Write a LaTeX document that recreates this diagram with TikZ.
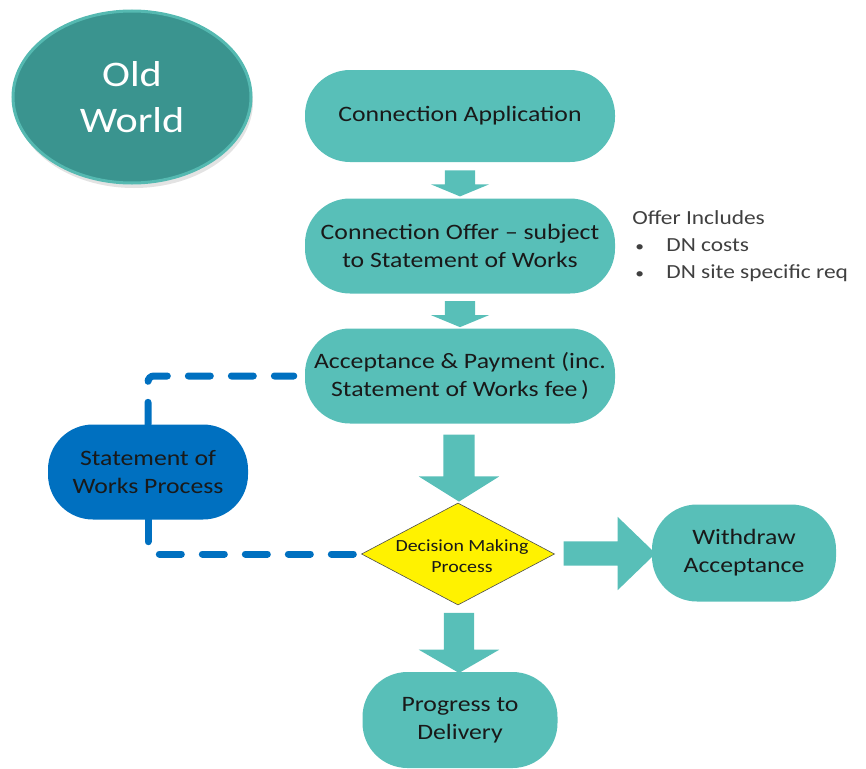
\documentclass[tikz,border=0pt]{standalone}
\usepackage{fontspec}
\setmainfont[FakeStretch=1.17]{Carlito}
\usetikzlibrary{positioning,shapes,shapes.geometric,shapes.arrows,shadows,calc}
\definecolor{boxteal}{HTML}{58BFB8}
\definecolor{oldteal}{HTML}{3A948F}
\definecolor{oldedge}{HTML}{55B9B1}
\definecolor{sowblue}{HTML}{0070C0}

\begin{document}
\begin{tikzpicture}[x=1pt, y=-1pt,
    stepbox/.style={fill=boxteal, rounded corners=45pt, align=center, font=\fontsize{22}{28}\selectfont, text=black!90},
    blockarrow/.style={single arrow, fill=boxteal, inner xsep=0pt, text height=0pt, text depth=0pt, single arrow head indent=0pt},
    dashlink/.style={draw=sowblue, line width=7pt, line cap=round, dash pattern=on 22pt off 21pt, rounded corners=6pt}]
    \useasboundingbox (0,0) rectangle (866,768);

    % Title
    \node[ellipse, fill=oldteal, draw=oldedge, line width=3pt, minimum width=238pt, minimum height=172pt,
          drop shadow={shadow xshift=2pt, shadow yshift=-5pt, fill=black!22}, align=center,
          font=\fontsize{36}{46}\selectfont, text=white] (old) at (132, 97) {Old\\World};

    % Main steps
    \node[stepbox, minimum width=310pt, minimum height=92pt] (app) at (460, 116) {Connection Application};
    \node[stepbox, minimum width=310pt, minimum height=95pt] (offer) at (460, 246) {Connection Offer -- subject\\to Statement of Works};
    \node[stepbox, minimum width=310pt, minimum height=95pt] (acc) at (460, 376) {Acceptance \& Payment (inc.\\Statement of Works fee\,)};

    % Decision
    \node[diamond, fill=yellow, draw=black!70, line width=0.6pt, minimum width=193pt, minimum height=102pt, inner sep=0pt] (dec) at (458, 554) {};
    \node[align=center, font=\fontsize{17}{21}\selectfont, text=black!90] (dectext) at (462, 556) {Decision Making\\Process};

    % Outcomes
    \node[stepbox, minimum width=184pt, minimum height=97pt] (wd) at (744, 553) {Withdraw\\Acceptance};
    \node[stepbox, minimum width=195pt, minimum height=96pt] (prog) at (460, 720) {Progress to\\Delivery};

    % Statement of Works
    \node[stepbox, fill=sowblue, minimum width=200pt, minimum height=95pt] (sow) at (148, 472) {Statement of\\Works Process};

    % Offer details
    \node[right=15pt of offer, align=left, inner sep=2pt, font=\fontsize{20}{27}\selectfont, text=black!75] (incl)
        {Offer Includes\\\hspace*{3pt}\makebox[31pt][l]{\fontsize{15}{15}\selectfont\textbullet}DN costs\\\hspace*{3pt}\makebox[31pt][l]{\fontsize{15}{15}\selectfont\textbullet}DN site specific req};

    % Block arrows
    \node[blockarrow, rotate=-90, minimum height=26pt, minimum width=58pt, inner ysep=15pt,
          single arrow head extend=14pt, single arrow tip angle=135] (arr1) at ($(app.south)!0.5!(offer.north)$) {};
    \node[blockarrow, rotate=-90, minimum height=26pt, minimum width=58pt, inner ysep=15pt,
          single arrow head extend=14pt, single arrow tip angle=135] (arr2) at ($(offer.south)!0.5!(acc.north)$) {};
    \node[blockarrow, rotate=-90, minimum height=67pt, minimum width=80pt, inner ysep=15.5pt,
          single arrow head extend=24.5pt, single arrow tip angle=116] (arr3) at ($(acc.south)!0.5!(dec.north)$) {};
    \node[blockarrow, minimum height=92pt, minimum width=73pt, inner ysep=12pt,
          single arrow head extend=24.5pt, single arrow tip angle=88] (arr4) at ($(dec.east)!0.5!(wd.west)$) {};
    \node[blockarrow, rotate=-90, minimum height=60pt, minimum width=80pt, inner ysep=15pt,
          single arrow head extend=25pt, single arrow tip angle=120] (arr5) at ($(dec.south)!0.5!(prog.north)$) {};

    % Dashed links
    \draw[dashlink, shorten >=11pt] (sow.north) |- (acc.west);
    \draw[dashlink, shorten >=7pt] (sow.south) |- (dec.west);
\end{tikzpicture}
\end{document}
